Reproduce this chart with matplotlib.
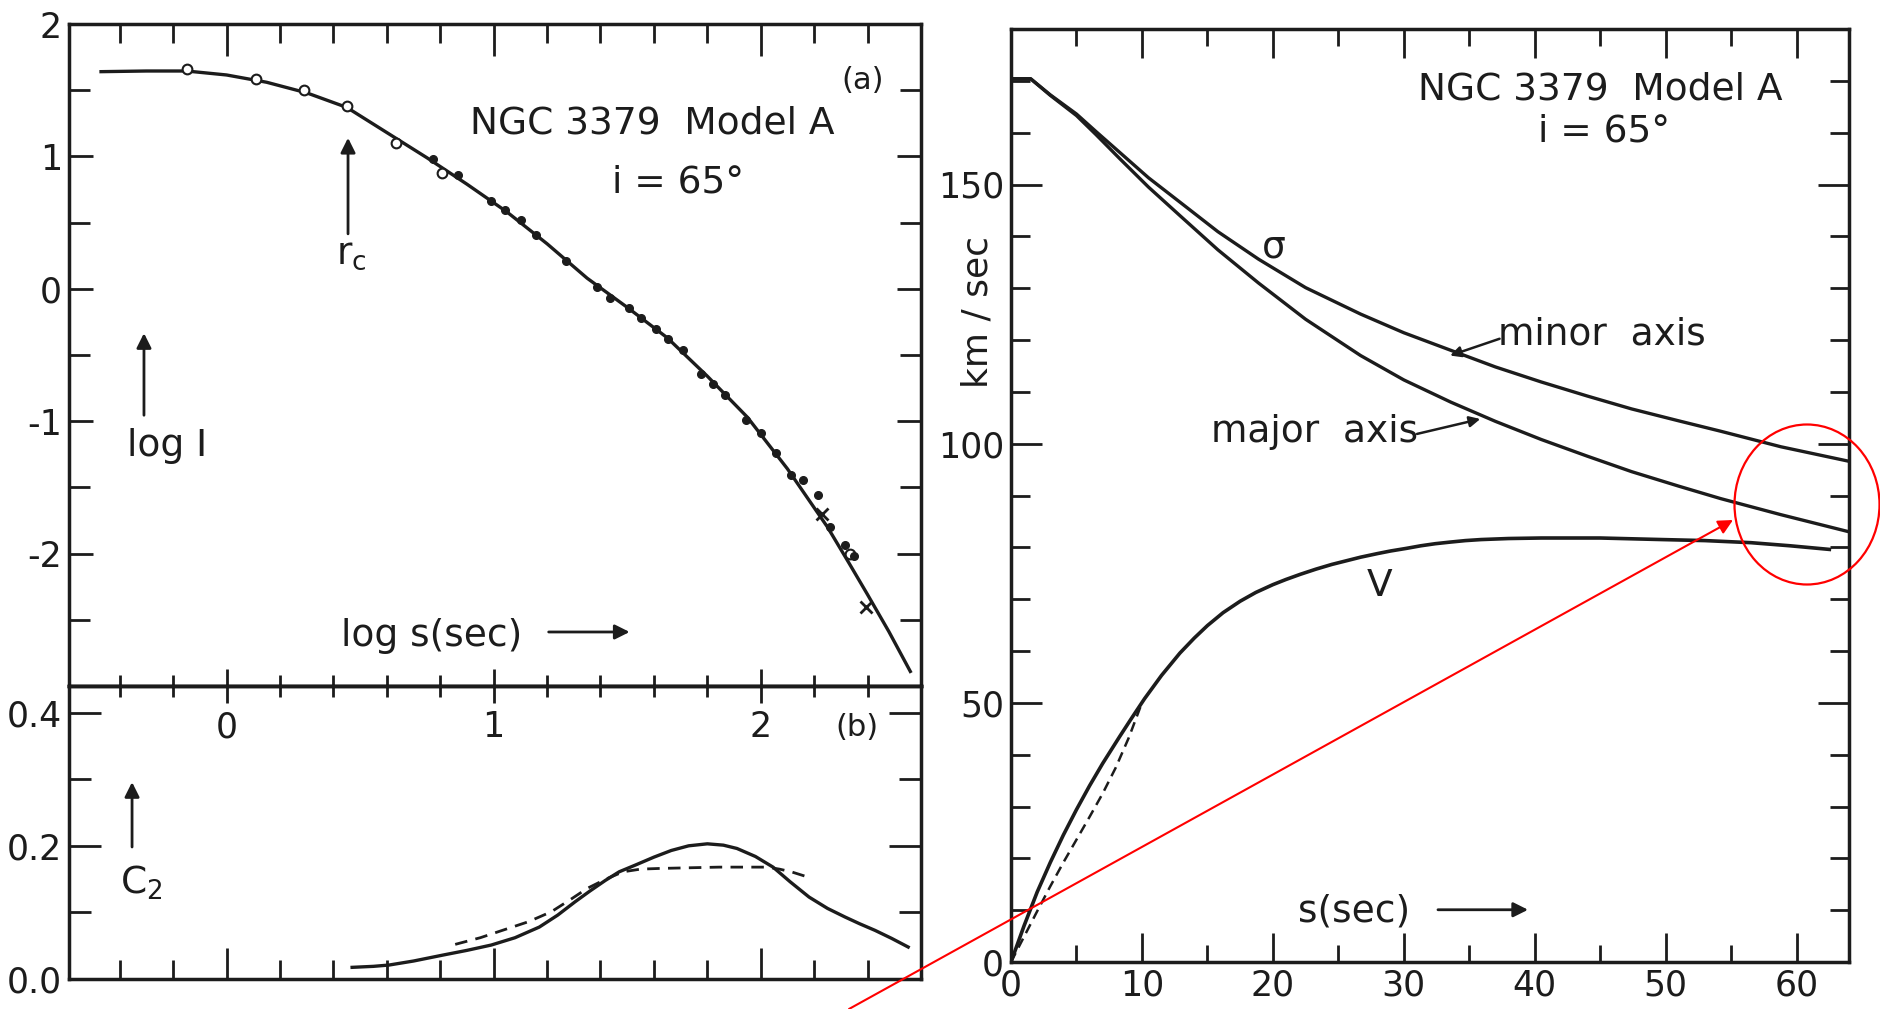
import matplotlib
matplotlib.use("Agg")
import matplotlib.pyplot as plt
from matplotlib.ticker import MultipleLocator, FixedLocator, FormatStrFormatter
from matplotlib.patches import Ellipse, FancyArrowPatch
from matplotlib.transforms import blended_transform_factory

plt.rcParams['font.family'] = ['DejaVu Sans']
plt.rcParams['mathtext.fontset'] = 'dejavusans'
plt.rcParams['axes.unicode_minus'] = False

INK = '#1c1c1c'

# (a) log I versus log s : model curve and observed points
prof_logs = [-0.47, -0.3, -0.15, 0.0, 0.15, 0.3, 0.45, 0.6, 0.75, 0.9, 1.05,
             1.2, 1.35, 1.5, 1.65, 1.8, 1.95, 2.1, 2.25, 2.33, 2.4, 2.48, 2.56]
prof_logI = [1.64, 1.645, 1.645, 1.615, 1.56, 1.48, 1.37, 1.18, 0.99, 0.79, 0.58,
             0.34, 0.08, -0.14, -0.37, -0.66, -0.97, -1.36, -1.80, -2.07, -2.31,
             -2.59, -2.89]
open_logs = [-0.148, 0.109, 0.288, 0.452, 0.636, 0.805, 2.334]
open_logI = [1.66, 1.585, 1.50, 1.38, 1.10, 0.873, -2.0]
dot_logs = [0.771, 0.867, 0.991, 1.043, 1.103, 1.16, 1.272, 1.388, 1.436, 1.508,
            1.552, 1.609, 1.654, 1.71, 1.777, 1.822, 1.867, 1.945, 2.0, 2.058,
            2.114, 2.159, 2.215, 2.26, 2.316, 2.35]
dot_logI = [0.977, 0.86, 0.664, 0.597, 0.519, 0.41, 0.21, 0.013, -0.071, -0.145,
            -0.22, -0.307, -0.381, -0.465, -0.644, -0.718, -0.803, -0.988, -1.089, -1.241,
            -1.41, -1.443, -1.561, -1.797, -1.932, -2.017]
cross_logs = [2.23, 2.394]
cross_logI = [-1.70, -2.40]

# (b) C2 versus log s
c2_logs = [0.47, 0.55, 0.609, 0.70, 0.811, 0.90, 0.991, 1.08, 1.171, 1.24, 1.305,
           1.36, 1.418, 1.47, 1.53, 1.60, 1.665, 1.73, 1.80, 1.86, 1.911, 1.98,
           2.046, 2.11, 2.181, 2.25, 2.316, 2.37, 2.428, 2.49, 2.552]
c2_model = [0.0175, 0.019, 0.021, 0.027, 0.036, 0.043, 0.051, 0.062, 0.078, 0.096,
            0.116, 0.132, 0.148, 0.161, 0.171, 0.183, 0.193, 0.200, 0.203, 0.201,
            0.196, 0.184, 0.168, 0.146, 0.123, 0.106, 0.093, 0.083, 0.073, 0.061, 0.048]
c2_obs_logs = [0.856, 0.95, 1.036, 1.13, 1.216, 1.29, 1.35, 1.42, 1.485, 1.55, 1.62,
               1.73, 1.844, 1.93, 2.024, 2.07, 2.114, 2.193]
c2_obs = [0.052, 0.062, 0.0735, 0.086, 0.101, 0.120, 0.136, 0.150, 0.161, 0.165,
          0.166, 0.167, 0.168, 0.168, 0.168, 0.165, 0.161, 0.151]
c2_tick_labels = [0, 1, 2]

# right panel: sigma and V (km/sec) versus s (sec)
sig_s = [0, 1.5, 3, 5, 6.5, 8.3, 10.5, 12.9, 15.8, 18.9, 22.5, 26.7, 30, 33.6, 37,
         40.5, 44, 47.4, 51, 54.2, 58.8, 64]
sig_minor = [170.4, 170.4, 167.3, 163.6, 160.2, 156.2, 151.3, 146.6, 140.9, 135.6,
             130.1, 125.0, 121.4, 118.0, 114.8, 111.9, 109.2, 106.7, 104.4, 102.4,
             99.4, 96.6]
sig_major = [170.4, 170.4, 167.2, 163.3, 159.6, 155.0, 149.5, 144.0, 137.4, 131.0,
             124.0, 117.0, 112.3, 108.0, 104.3, 100.8, 97.6, 94.6, 91.8, 89.4,
             86.3, 83.0]
v_s = [0, 1, 2, 3, 4, 5, 6, 7, 8.3, 9.2, 10.2, 11.5, 12.9, 14, 15, 16.2, 17.5, 18.7,
       20, 21, 22.1, 23.3, 24.5, 25.6, 26.7, 28, 29, 30.2, 31.3, 32.4, 33.5, 34.7,
       35.9, 38, 40.5, 45, 49.7, 53, 56.5, 59.5, 62.5]
v_model = [0, 7, 13.5, 19.2, 24.5, 29.4, 34, 38.3, 43.5, 47.0, 50.8, 55.3, 59.6, 62.5,
           64.9, 67.4, 69.6, 71.3, 72.8, 73.8, 74.8, 75.8, 76.7, 77.4, 78.1, 78.8, 79.3,
           79.8, 80.3, 80.7, 81.0, 81.3, 81.5, 81.7, 81.8, 81.8, 81.5, 81.3, 80.9,
           80.3, 79.6]
v_dash_s = [0, 1, 2, 3, 4, 5, 6, 7, 8, 9, 10]
v_dash = [0, 4.9, 9.8, 14.6, 19.2, 23.6, 28, 32.5, 37.5, 43.3, 50]

W, H = 1881, 1009


def box(x0, y0, x1, y1):
    return [x0 / W, 1 - y1 / H, (x1 - x0) / W, (y1 - y0) / H]


fig = plt.figure(figsize=(W / 100, H / 100), dpi=100)
ax_a = fig.add_axes(box(69, 24, 921, 686))
ax_b = fig.add_axes(box(69, 686, 921, 979))
ax_v = fig.add_axes(box(1011, 29, 1849, 962))

for ax in (ax_a, ax_b, ax_v):
    for sp in ax.spines.values():
        sp.set_linewidth(2.5)
        sp.set_color(INK)

LW = 2.4
txt = dict(fontsize=27, color=INK, ha='center', va='center')
arr = dict(arrowstyle='-|>', color=INK, lw=2, mutation_scale=22, shrinkA=0, shrinkB=0)

# ---- panel (a)
ax_a.plot(prof_logs, prof_logI, color=INK, lw=LW)
ax_a.plot(open_logs, open_logI, 'o', mfc='white', mec=INK, ms=7, mew=1.5)
ax_a.plot(dot_logs, dot_logI, 'o', color=INK, ms=5.5)
ax_a.plot(cross_logs, cross_logI, 'x', color=INK, ms=8, mew=2)
ax_a.set_xlim(-0.59, 2.6)
ax_a.set_ylim(-3, 2)
ax_a.xaxis.set_major_locator(MultipleLocator(1))
ax_a.xaxis.set_minor_locator(MultipleLocator(0.2))
ax_a.yaxis.set_major_locator(FixedLocator([-2, -1, 0, 1, 2]))
ax_a.yaxis.set_minor_locator(MultipleLocator(0.5))
ax_a.tick_params(axis='x', which='both', direction='in', top=True, bottom=False,
                 labelbottom=False, width=2, color=INK)
ax_a.tick_params(axis='x', which='major', length=23)
ax_a.tick_params(axis='x', which='minor', length=14)
ax_a.tick_params(axis='y', which='both', direction='in', left=True, right=True,
                 labelsize=25, pad=5, width=2, color=INK, labelcolor=INK)
ax_a.tick_params(axis='y', which='major', length=17)
ax_a.tick_params(axis='y', which='minor', length=15)

ax_a.text(0.931, 0.915, '(a)', transform=ax_a.transAxes, **dict(txt, fontsize=22))
ax_a.text(0.685, 0.849, 'NGC 3379  Model A', transform=ax_a.transAxes, **txt)
ax_a.text(0.715, 0.761, 'i = 65°', transform=ax_a.transAxes, **txt)
ax_a.annotate('', xy=(0.3275, 0.828), xytext=(0.3275, 0.683),
              xycoords='axes fraction', arrowprops=arr)
ax_a.text(0.331, 0.652, r'$\mathregular{r_c}$', transform=ax_a.transAxes, **txt)
ax_a.annotate('', xy=(0.088, 0.533), xytext=(0.088, 0.409),
              xycoords='axes fraction', arrowprops=arr)
ax_a.text(0.115, 0.3625, 'log I', transform=ax_a.transAxes, **txt)
ax_a.text(0.426, 0.0755, 'log s(sec)', transform=ax_a.transAxes, **txt)
ax_a.annotate('', xy=(0.658, 0.0816), xytext=(0.563, 0.0816),
              xycoords='axes fraction', arrowprops=arr)

# ---- panel (b)
ax_b.plot(c2_logs, c2_model, color=INK, lw=LW)
ax_b.plot(c2_obs_logs, c2_obs, color=INK, lw=2, dashes=(4.5, 3))
ax_b.set_xlim(-0.59, 2.6)
ax_b.set_ylim(0, 0.44)
ax_b.xaxis.set_major_locator(MultipleLocator(1))
ax_b.xaxis.set_minor_locator(MultipleLocator(0.2))
ax_b.yaxis.set_major_locator(MultipleLocator(0.2))
ax_b.yaxis.set_minor_locator(MultipleLocator(0.1))
ax_b.yaxis.set_major_formatter(FormatStrFormatter('%.1f'))
ax_b.tick_params(axis='x', which='both', direction='in', top=False, bottom=True,
                 labelbottom=False, width=2, color=INK)
ax_b.tick_params(axis='x', which='major', length=22)
ax_b.tick_params(axis='x', which='minor', length=14)
ax_b.tick_params(axis='y', which='both', direction='in', left=True, right=True,
                 labelsize=25, pad=5, width=2, color=INK, labelcolor=INK)
ax_b.tick_params(axis='y', which='major', length=23)
ax_b.tick_params(axis='y', which='minor', length=16)
sec = ax_b.secondary_xaxis('top')
sec.xaxis.set_major_locator(MultipleLocator(1))
sec.xaxis.set_minor_locator(MultipleLocator(0.2))
sec.tick_params(which='both', direction='inout', labeltop=False, width=2, color=INK)
sec.tick_params(which='major', length=25)
sec.tick_params(which='minor', length=16)
sec.spines['top'].set_linewidth(2.5)

blend = blended_transform_factory(ax_b.transData, ax_b.transAxes)
for v in c2_tick_labels:
    ax_b.text(v, 0.86, str(v), transform=blend, **dict(txt, fontsize=25))
ax_b.text(0.925, 0.86, '(b)', transform=ax_b.transAxes, **dict(txt, fontsize=22))
ax_b.annotate('', xy=(0.074, 0.672), xytext=(0.074, 0.4505),
              xycoords='axes fraction', arrowprops=arr)
ax_b.text(0.0845, 0.328, r'$\mathregular{C_2}$', transform=ax_b.transAxes, **txt)

# ---- right panel
ax_v.plot(sig_s, sig_minor, color=INK, lw=LW)
ax_v.plot(sig_s, sig_major, color=INK, lw=LW)
ax_v.plot(v_s, v_model, color=INK, lw=2.6)
ax_v.plot(v_dash_s, v_dash, color=INK, lw=1.8, dashes=(4, 2.5))
ax_v.set_xlim(0, 64)
ax_v.set_ylim(0, 180)
ax_v.xaxis.set_major_locator(MultipleLocator(10))
ax_v.xaxis.set_minor_locator(MultipleLocator(5))
ax_v.yaxis.set_major_locator(MultipleLocator(50))
ax_v.yaxis.set_minor_locator(MultipleLocator(10))
ax_v.tick_params(which='both', direction='in', top=True, right=True, width=2,
                 color=INK, labelcolor=INK, labelsize=25, pad=5)
ax_v.tick_params(axis='x', which='major', length=21)
ax_v.tick_params(axis='x', which='minor', length=12)
ax_v.tick_params(axis='y', which='major', length=22)
ax_v.tick_params(axis='y', which='minor', length=14)

ax_v.text(0.703, 0.935, 'NGC 3379  Model A', transform=ax_v.transAxes, **txt)
ax_v.text(0.708, 0.890, 'i = 65°', transform=ax_v.transAxes, **txt)
ax_v.text(0.314, 0.766, 'σ', transform=ax_v.transAxes, **txt)
ax_v.text(0.705, 0.673, 'minor  axis', transform=ax_v.transAxes, **txt)
ax_v.annotate('', xy=(0.524, 0.650), xytext=(0.583, 0.668), xycoords='axes fraction',
              arrowprops=dict(arr, lw=1.8, mutation_scale=16))
ax_v.text(0.3627, 0.568, 'major  axis', transform=ax_v.transAxes, **txt)
ax_v.annotate('', xy=(0.560, 0.582), xytext=(0.4845, 0.566), xycoords='axes fraction',
              arrowprops=dict(arr, lw=1.8, mutation_scale=16))
ax_v.text(0.440, 0.403, 'V', transform=ax_v.transAxes, **txt)
ax_v.text(0.409, 0.0536, 's(sec)', transform=ax_v.transAxes, **txt)
ax_v.annotate('', xy=(0.617, 0.056), xytext=(0.5095, 0.056),
              xycoords='axes fraction', arrowprops=arr)
ax_v.text(-0.0394, 0.697, 'km / sec', transform=ax_v.transAxes, rotation=90,
          **dict(txt, fontsize=26))

# red highlight added on top of the figure
fig.add_artist(Ellipse((1807 / W, 1 - 504.5 / H), 145 / W, 160 / H,
                       transform=fig.transFigure, fill=False, color='red', lw=1.6))
fig.add_artist(FancyArrowPatch((849 / W, 1 - 1009 / H), (1733 / W, 1 - 520 / H),
                               transform=fig.transFigure, arrowstyle='-|>',
                               mutation_scale=22, color='red', lw=1.5,
                               shrinkA=0, shrinkB=0))

fig.savefig('out.png', dpi=100)
